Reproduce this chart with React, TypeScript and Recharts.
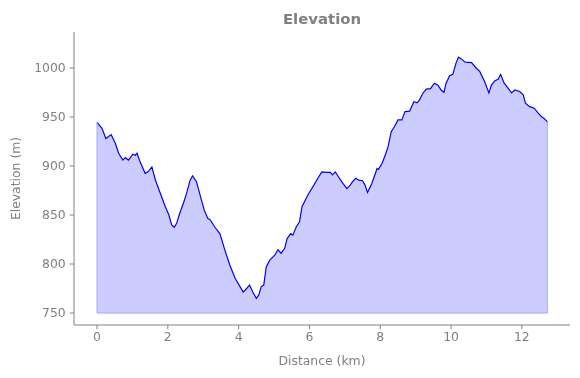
import { AreaChart, Area, XAxis, YAxis, ReferenceLine, Label } from "recharts";

const grey = "#808080";
const lineBlue = "#0000ff";
const fillBlue = "#ccccff";
const edgeBlue = "#a6a6ff";

// distance along the track (km)
const distances = [
  0.0, 0.14, 0.25, 0.4, 0.52, 0.61, 0.73, 0.8, 0.89, 1.01, 1.08, 1.13, 1.22, 1.36, 1.44, 1.55, 1.65, 1.79, 1.93,
  2.03, 2.11, 2.18, 2.25, 2.32, 2.44, 2.53, 2.63, 2.7, 2.81, 2.91, 3.03, 3.13, 3.19, 3.33, 3.47, 3.61, 3.75, 3.9,
  4.04, 4.13, 4.19, 4.31, 4.4, 4.5, 4.57, 4.64, 4.71, 4.78, 4.88, 5.02, 5.11, 5.2, 5.3, 5.37, 5.47, 5.53, 5.63,
  5.72, 5.79, 5.91, 5.98, 6.1, 6.22, 6.35, 6.49, 6.59, 6.65, 6.73, 6.82, 6.94, 7.06, 7.15, 7.22, 7.31, 7.39, 7.5,
  7.57, 7.64, 7.76, 7.91, 7.95, 8.05, 8.14, 8.22, 8.31, 8.4, 8.5, 8.61, 8.7, 8.83, 8.95, 9.04, 9.11, 9.2, 9.3,
  9.42, 9.53, 9.63, 9.72, 9.8, 9.86, 9.96, 10.05, 10.14, 10.21, 10.3, 10.4, 10.58, 10.72, 10.81, 10.95, 11.07,
  11.14, 11.24, 11.33, 11.4, 11.5, 11.61, 11.71, 11.8, 11.94, 12.04, 12.1, 12.22, 12.35, 12.46, 12.55, 12.63, 12.72,
];

// elevation (m)
const elevations = [
  944.5, 938.5, 928, 932, 923, 913, 906, 908.5, 906, 912, 911, 913, 904, 892.5, 894, 899, 885.5, 872, 858.5,
  850, 840, 837.5, 841.5, 850, 862, 872, 885.5, 890, 884, 870.5, 855, 846.5, 845.5, 837.5, 831, 814.5, 799, 785.5,
  777, 771.5, 773.5, 778.5, 771.5, 765, 768.5, 777, 778.5, 797, 804, 809, 814.5, 811, 816, 826, 831, 829.5, 838,
  843, 858.5, 867, 872, 879, 886.5, 894, 893.5, 893.5, 891, 894, 889, 882.5, 877, 880.5, 884, 887.5, 885.5, 885,
  880.5, 873, 882, 897.5, 896.5, 902.5, 911, 919.5, 935, 940, 947, 947, 955.5, 956, 965.5, 964.5, 967.5, 974, 978.5,
  979, 984.5, 982.5, 977.5, 975, 984.5, 992, 993.5, 1005, 1011, 1009, 1006, 1005.5, 999.5, 996.5, 986, 974.5,
  982.5, 987, 988.5, 993.5, 984.5, 979.5, 974.5, 977.5, 976, 972.5, 964, 960.5, 959, 954, 950.5, 948.5, 945,
];

const xTicks = [0, 2, 4, 6, 8, 10, 12];
const yTicks = [750, 800, 850, 900, 950, 1000];
const baseline = 750;

const data = distances.map((d, i) => ({ distance: d, elevation: elevations[i] }));
const lastKm = distances[distances.length - 1];

const tickStyle = { fontSize: 12.4, fill: grey, fontFamily: "DejaVu Sans" };

export default function App() {
  return (
    <div style={{ position: "fixed", left: 0, top: 0, width: 580, height: 378, background: "#fff", fontFamily: "DejaVu Sans" }}>
      <div style={{ position: "absolute", left: 0, width: 644, top: 10, textAlign: "center", fontSize: 14.9, fontWeight: "bold", color: grey, lineHeight: "normal" }}>
        Elevation
      </div>
      <AreaChart width={580} height={378} data={data} margin={{ top: 32, right: 10, bottom: 0, left: 0 }}>
        <XAxis
          dataKey="distance"
          type="number"
          domain={[-0.65, 13.36]}
          ticks={xTicks}
          allowDataOverflow
          height={53}
          stroke={grey}
          tick={tickStyle}
          tickSize={4.3}
          tickMargin={3}
        >
          <Label value="Distance (km)" position="center" dy={9} style={{ fontSize: 12.4, fill: grey, fontFamily: "DejaVu Sans" }} />
        </XAxis>
        <YAxis
          type="number"
          domain={[737.8, 1036.7]}
          ticks={yTicks}
          allowDataOverflow
          width={74}
          stroke={grey}
          tick={tickStyle}
          tickSize={4.3}
          tickMargin={4}
        >
          <Label value="Elevation (m)" angle={-90} position="center" dx={-21} style={{ fontSize: 12.4, fill: grey, fontFamily: "DejaVu Sans", textAnchor: "middle" }} />
        </YAxis>
        <Area
          type="linear"
          dataKey="elevation"
          baseValue={baseline}
          stroke={lineBlue}
          strokeWidth={1.2}
          fill={fillBlue}
          fillOpacity={1}
          isAnimationActive={false}
          dot={false}
          activeDot={false}
        />
        <ReferenceLine segment={[{ x: 0, y: baseline }, { x: lastKm, y: baseline }]} stroke={edgeBlue} strokeWidth={1} />
        <ReferenceLine segment={[{ x: 0, y: baseline }, { x: 0, y: elevations[0] }]} stroke={edgeBlue} strokeWidth={1} />
        <ReferenceLine segment={[{ x: lastKm, y: baseline }, { x: lastKm, y: elevations[elevations.length - 1] }]} stroke={edgeBlue} strokeWidth={1} />
      </AreaChart>
    </div>
  );
}
